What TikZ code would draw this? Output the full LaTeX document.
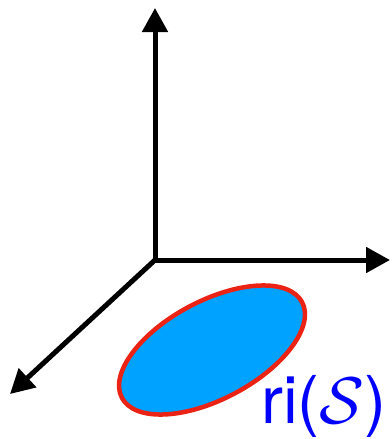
\documentclass[tikz,border=0pt]{standalone}
\usepackage{fix-cm}
\usepackage{fontspec}
\setsansfont{TeX Gyre Heros}
\usepackage{xcolor}
\usepackage{tikz}
\usetikzlibrary{arrows.meta, shapes.geometric, positioning}

\definecolor{setblue}{RGB}{0,162,255}
\definecolor{setred}{RGB}{235,35,20}

\begin{document}
\begin{tikzpicture}[x=1pt, y=-1pt,
			axis/.style={line width=5pt, -{Triangle[width=25pt,length=24pt]}},
			region/.style={draw=setred, fill=setblue, line width=4.5pt, ellipse, inner sep=0pt, minimum width=204pt, minimum height=98pt, rotate=28},
			setlabel/.style={text=blue, font=\sffamily\fontsize{66}{70}\selectfont, inner sep=0pt, anchor=base west}
			]
			\useasboundingbox (0,0) rectangle (391,439);
			\coordinate (o) at (155,260);
			\coordinate (z) at (155,8);
			\coordinate (y) at (390,260);
			\coordinate (x) at (10,394);
			\draw[axis] (o) -- (z);
			\draw[axis] (o) -- (y);
			\draw[axis] (o) -- (x);
			\node [region](s) at (212,350) {};
			\node [setlabel](ri) at (261,423) {ri($\mathcal{S}$)};
		\end{tikzpicture}
\end{document}
